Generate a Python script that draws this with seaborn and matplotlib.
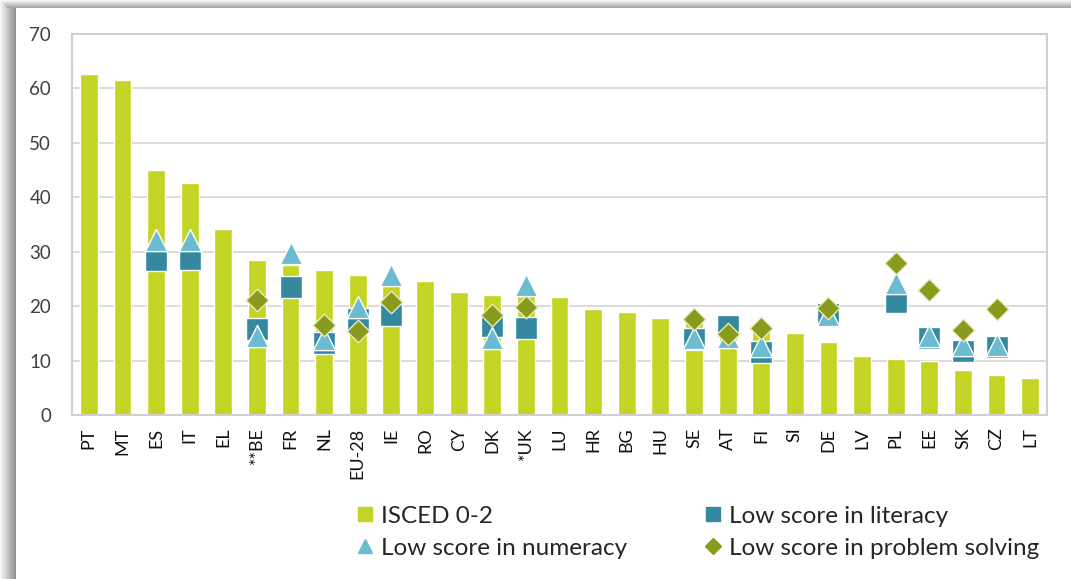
import numpy as np
import matplotlib
matplotlib.use("Agg")
import matplotlib.pyplot as plt
from matplotlib.lines import Line2D
from matplotlib.patches import Rectangle
import seaborn as sns

countries = ['PT', 'MT', 'ES', 'IT', 'EL', '**BE', 'FR', 'NL', 'EU-28', 'IE',
             'RO', 'CY', 'DK', '*UK', 'LU', 'HR', 'BG', 'HU', 'SE', 'AT',
             'FI', 'SI', 'DE', 'LV', 'PL', 'EE', 'SK', 'CZ', 'LT']
isced = [62.6, 61.6, 45.1, 42.7, 34.2, 28.4, 27.6, 26.6, 25.7, 25.1,
         24.6, 22.6, 22.1, 21.9, 21.7, 19.5, 19.0, 17.9, 17.6, 16.6,
         15.8, 15.0, 13.4, 10.8, 10.3, 9.9, 8.3, 7.4, 6.8]
nan = np.nan
literacy = [nan, nan, 28.5, 28.6, nan, 15.8, 23.6, 13.3, 17.6, 18.4,
            nan, nan, 16.3, 16.0, nan, nan, nan, nan, 14.0, 16.3,
            11.6, nan, 18.6, nan, 20.7, 14.2, 11.7, 12.5, nan]
numeracy = [nan, nan, 32.1, 32.2, nan, 14.6, 29.7, 14.0, 19.9, 25.7,
            nan, nan, 14.2, 23.9, nan, nan, nan, nan, 14.2, 14.4,
            12.7, nan, 18.3, nan, 24.3, 14.6, 12.9, 12.9, nan]
problem_solving = [nan, nan, nan, nan, nan, 21.2, nan, 16.6, 15.5, 20.8,
                   nan, nan, 18.3, 19.8, nan, nan, nan, nan, 17.6, 14.9,
                   15.9, nan, 19.6, nan, 27.9, 23.0, 15.7, 19.5, nan]

BAR = '#C4D424'
LIT = '#3489A0'
NUM = '#6BBCD1'
PS = '#8A9A1C'

sns.set_style('white')
plt.rcParams['font.family'] = ['Lato', 'DejaVu Sans']

fig = plt.figure(figsize=(10.71, 5.79), dpi=100)

# shadow frame on the left and top edges
for i in range(16):
    g = 0.97 - 0.027 * i
    fig.patches.append(Rectangle((i / 1071, 0), 1 / 1071, 1, transform=fig.transFigure,
                                 color=(g, g, g), lw=0, zorder=0))
for i in range(8):
    g = 0.97 - 0.045 * i
    fig.patches.append(Rectangle((i / 1071, 1 - (i + 1) / 579), 1, 1 / 579,
                                 transform=fig.transFigure, color=(g, g, g), lw=0, zorder=0))

ax = fig.add_axes([72 / 1071, 164 / 579, 975 / 1071, 381 / 579])
pos = np.arange(len(countries))

sns.barplot(x=pos, y=isced, color=BAR, width=0.53, saturation=1, ax=ax, zorder=2)
sns.scatterplot(x=pos, y=literacy, marker='s', s=15.5 ** 2, color=LIT,
                edgecolor='white', linewidth=1, zorder=3, ax=ax)
sns.scatterplot(x=pos, y=numeracy, marker='^', s=16 ** 2, color=NUM,
                edgecolor='white', linewidth=1, zorder=4, ax=ax)
sns.scatterplot(x=pos, y=problem_solving, marker='D', s=11.5 ** 2, color=PS,
                edgecolor='#E8EBC0', linewidth=1, zorder=5, ax=ax)

ax.set_xlim(-0.5, len(countries) - 0.5)
ax.set_ylim(0, 70)
ax.set_yticks(range(0, 71, 10))
ax.yaxis.grid(True, color='#D4D4D4', linewidth=1.2, zorder=0)
ax.set_axisbelow(True)
for s in ax.spines.values():
    s.set_color('#D0D0D0')
    s.set_linewidth(1.5)
ax.set_xticks(pos)
ax.set_xticklabels(countries, rotation=90, fontsize=13, color='#111111')
ax.tick_params(axis='x', length=0, pad=9)
ax.tick_params(axis='y', length=0, pad=15, labelsize=13.5, labelcolor='#404040')
ax.set_xlabel('')
ax.set_ylabel('')

handles = [
    Line2D([], [], marker='s', linestyle='none', color=BAR, markersize=10),
    Line2D([], [], marker='^', linestyle='none', color=NUM, markersize=10),
    Line2D([], [], marker='s', linestyle='none', color=LIT, markersize=10),
    Line2D([], [], marker='D', linestyle='none', color=PS, markersize=8),
]
labels = ['ISCED 0-2', 'Low score in numeracy',
          'Low score in literacy', 'Low score in problem solving']
fig.legend(handles, labels, ncol=2, loc='upper left', bbox_to_anchor=(336 / 1071, 1 - 484 / 579),
           frameon=False, fontsize=17.5, handlelength=0.6, handletextpad=0.35,
           columnspacing=3.25, labelspacing=0.45)

fig.savefig('out.png', dpi=100)
